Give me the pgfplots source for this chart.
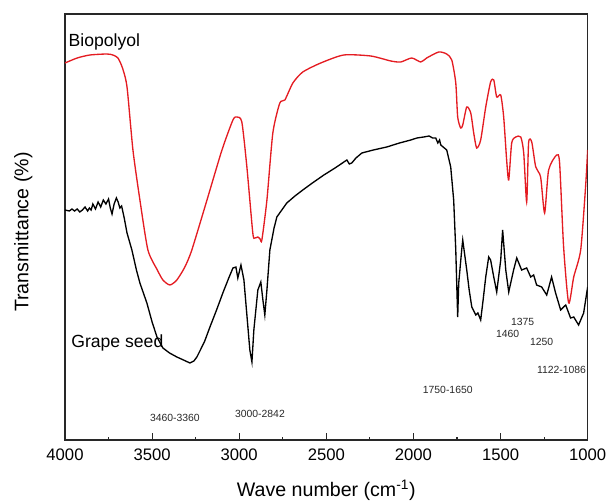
\documentclass[border=0pt]{standalone}
\usepackage{fontspec}
\setmainfont{Liberation Sans}
\usepackage{pgfplots}
\pgfplotsset{compat=1.18}
\definecolor{redline}{RGB}{228,28,34}
\definecolor{axgray}{RGB}{40,40,40}
\begin{document}
\begin{tikzpicture}
\path[use as bounding box] (-48.75pt,-46.5pt) rectangle (407.25pt,330pt);
\begin{axis}[
  at={(0,0)}, anchor=south west,
  width=392pt, height=319.5pt, scale only axis,
  x dir=reverse, xmin=1000, xmax=4000, ymin=0, ymax=426,
  xtick={1000,1500,2000,2500,3000,3500,4000},
  minor xtick={1250,1750,2250,2750,3250,3750},
  xtick pos=bottom, tick align=inside,
  major tick length=5pt, minor tick length=2.6pt,
  ytick=\empty,
  axis line style={axgray, line width=0.8pt},
  every tick/.style={axgray, line width=0.8pt},
  /pgf/number format/assume math mode=true,
  /pgf/number format/1000 sep={},
  tick label style={font=\fontsize{12.5}{15}\selectfont},
  xticklabel style={yshift=-3pt},
  xlabel={Wave number (cm\textsuperscript{-1})},
  ylabel={Transmittance (\%)},
  every axis x label/.style={at={(axis description cs:0.5,-0.117)}, anchor=center, font=\fontsize{14.7}{17}\selectfont},
  every axis y label/.style={at={(axis description cs:-0.080,0.488)}, anchor=center, rotate=90, font=\fontsize{14.7}{17}\selectfont},
]
\addplot[redline, line width=1pt, smooth, tension=0.4] coordinates {
(4000,377)(3930,382)(3857,385)(3760,386)(3725,385)(3696,382)(3670,372)(3644,353)(3610,290)(3570,240)(3524,190)
(3470,170)(3438,160)(3398,155)(3358,160)(3312,173)(3272,190)(3185,240)(3099,290)(3036,320)(3013,323)(2985,318)
(2956,273)(2922,207)(2910,202)(2893,203)(2880,201)(2870,200)(2841,240)(2807,307)(2767,337)(2738,340)(2692,357)
(2635,368)(2532,377)(2400,385)(2245,384)(2130,379)(2073,378)(2010,382)(1958,378)(1924,382)(1855,388)(1809,386)
(1780,380)(1757,357)(1746,323)(1729,312)(1717,315)(1694,333)(1671,327)(1654,307)(1637,292)(1614,300)(1585,333)
(1557,358)(1539,360)(1522,343)(1499,345)(1482,323)(1465,280)(1453,260)(1436,297)(1413,303)(1384,303)(1367,287)
(1350,238)(1339,297)(1321,298)(1298,273)(1270,263)(1247,227)(1224,270)(1178,285)(1161,277)(1138,193)(1109,137)
(1080,163)(1040,190)(1012,253)(1000,290)
};
\addplot[black, line width=1pt] coordinates {
(4000,230)(3975,229)(3960,231)(3945,229)(3930,231)(3915,228)(3900,230)(3885,233)(3870,229)(3860,232)(3850,230)(3840,236)(3825,231)(3810,238)(3795,233)(3780,240)
(3765,236)(3750,241)(3740,232)(3730,226)(3718,236)(3705,242)(3695,238)(3685,232)(3675,234)(3660,222)(3644,207)
(3616,190)(3590,170)(3570,157)(3530,137)(3500,118)(3472,103)(3438,92)(3400,87)(3358,83)(3320,80)(3283,77)(3260,79)(3243,83)
(3200,98)(3168,113)(3130,130)(3094,147)(3060,162)(3036,172)(3019,173)(3008,162)(2990,175)(2973,160)(2956,125)
(2939,90)(2927,78)(2916,110)(2893,150)(2876,158)(2864,140)(2853,125)(2841,150)(2824,190)(2800,212)(2784,223)
(2727,237)(2680,244)(2635,250)(2580,257)(2514,265)(2450,272)(2382,280)(2368,276)(2354,277)(2330,282)(2296,287)
(2230,290)(2153,293)(2080,297)(2015,300)(1980,302)(1941,303)(1910,304)(1890,302)(1872,302)(1860,297)(1850,300)
(1843,295)(1809,290)(1786,273)(1769,240)(1757,190)(1746,123)(1740,157)(1723,190)(1717,200)(1694,170)(1680,150)
(1665,133)(1642,125)(1630,127)(1614,120)(1600,140)(1585,163)(1568,183)(1557,180)(1539,163)(1522,148)(1499,180)
(1488,210)(1470,170)(1453,148)(1425,170)(1407,182)(1379,170)(1350,172)(1327,163)(1310,165)(1293,155)(1264,153)
(1235,145)(1207,163)(1184,147)(1155,130)(1126,135)(1098,122)(1080,123)(1052,115)(1023,127)(1000,153)
};
\node[anchor=west, inner sep=0pt, font=\fontsize{13.2}{16}\selectfont] at (axis cs:3980,398) {Biopolyol};
\node[anchor=west, inner sep=0pt, font=\fontsize{13.2}{16}\selectfont] at (axis cs:3965,97) {Grape seed};
\begin{scope}[every node/.style={font=\fontsize{7.8}{9}\selectfont, text=axgray, inner sep=0pt}]
\node at (axis cs:3369,22) {3460-3360};
\node at (axis cs:2881,26) {3000-2842};
\node at (axis cs:1803,50) {1750-1650};
\node at (axis cs:1373,118) {1375};
\node at (axis cs:1459,106) {1460};
\node at (axis cs:1264,98) {1250};
\node at (axis cs:1150,70) {1122-1086};
\end{scope}
\end{axis}
\end{tikzpicture}
\end{document}
